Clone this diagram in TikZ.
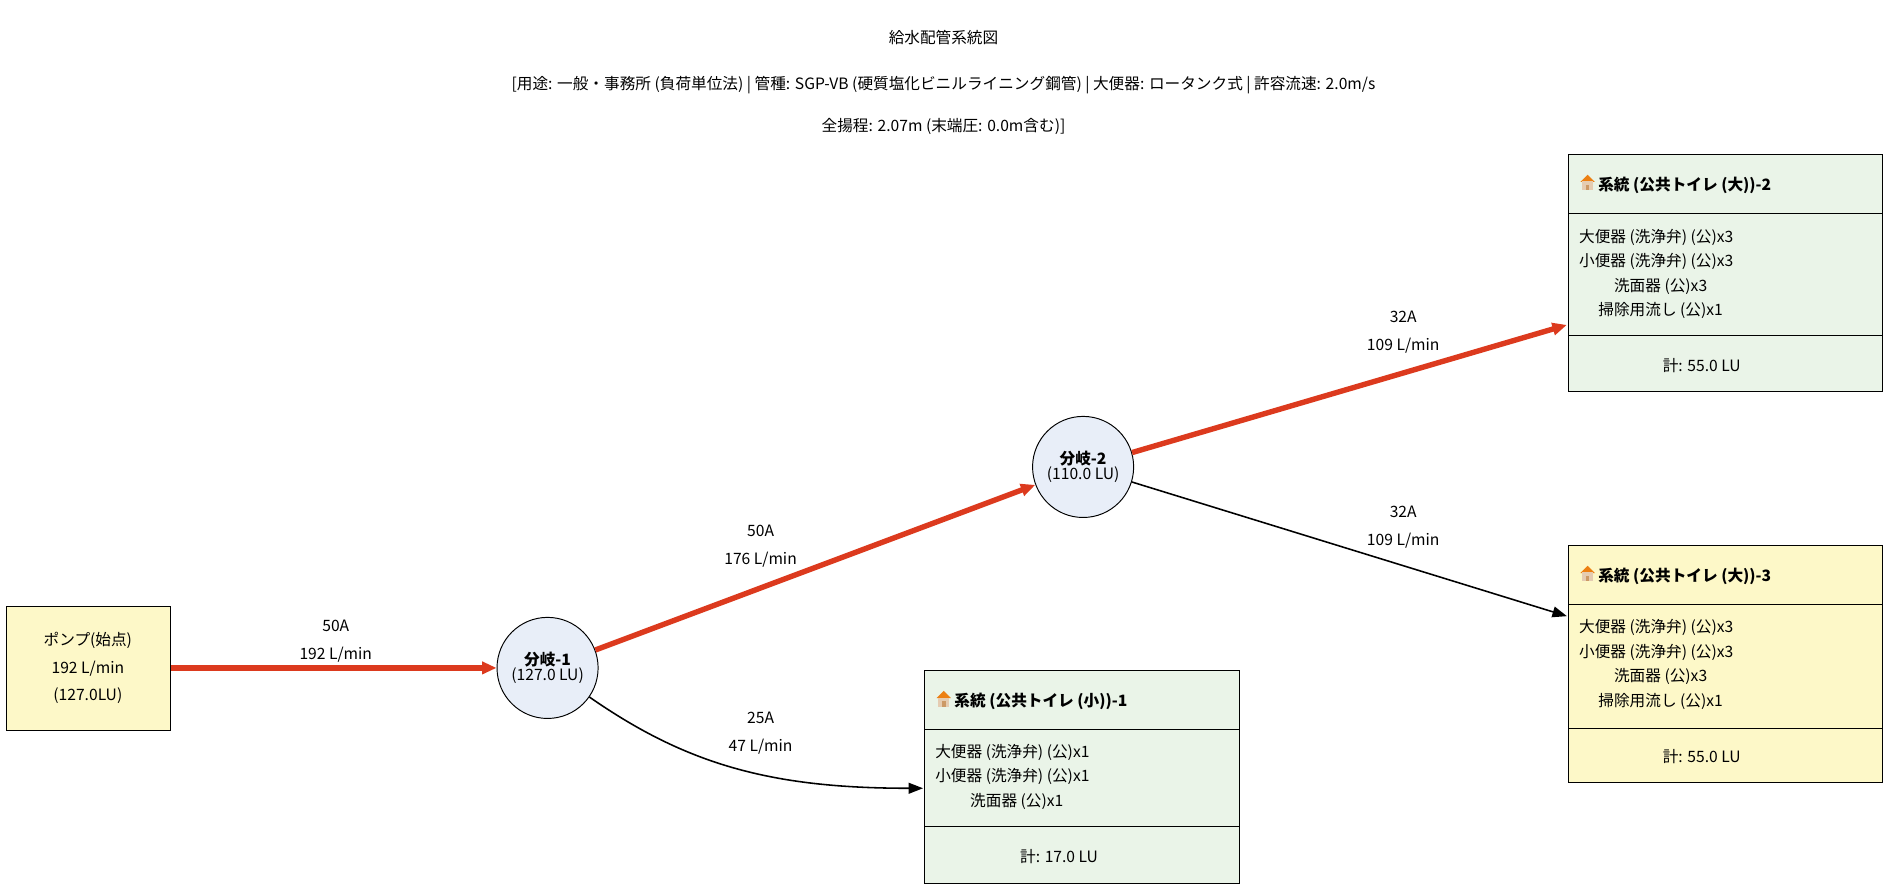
\documentclass[tikz,border=0pt]{standalone}
\usepackage{fontspec}
\setmainfont{Noto Sans CJK JP}
\usetikzlibrary{arrows.meta}
\definecolor{pipered}{HTML}{DC3A1E}
\definecolor{boxgreen}{HTML}{EAF4E8}
\definecolor{boxyellow}{HTML}{FDF8C8}
\definecolor{nodeblue}{HTML}{E8EEF8}
\newcommand{\houseicon}{\tikz[baseline=0pt,x=1pt,y=1pt]{%
  \fill[orange!70!brown] (0,7) -- (6,13) -- (12,7) -- cycle;
  \fill[brown!40] (1.5,0) rectangle (10.5,7.5);
  \fill[brown!80] (4.5,0) rectangle (7.5,4.5);}}
\begin{document}
\begin{tikzpicture}[
  x = 1pt, y = -1pt,
  every node/.style = { font = \fontsize{13}{15}\selectfont },
  branch/.style = {
    shape = circle, draw = black, thick, fill = nodeblue,
    minimum size = 84pt, inner sep = 0pt, align = center,
  },
  sysbox/.style = { draw = black, thick },
  item/.style = { anchor = west, inner sep = 0pt },
  pipe/.style = { -{Triangle[length=12pt, width=10pt]}, line width = 4.5pt, draw = pipered, color = pipered },
  thinpipe/.style = { -{Triangle[length=12pt, width=9pt]}, line width = 1.3pt },
  lbl/.style = { align = center, font = \fontsize{13}{23}\selectfont }
]
  \useasboundingbox (0,0) rectangle (1568,736);

  % title
  \node (title) at (784,31) {給水配管系統図};
  \node (sub1) at (784,71) {[用途: 一般・事務所 (負荷単位法) | 管種: SGP-VB (硬質塩化ビニルライニング鋼管) | 大便器: ロータンク式 | 許容流速: 2.0m/s};
  \node (sub2) at (784,105) {全揚程: 2.07m (末端圧: 0.0m含む)]};

  % pump
  \draw[sysbox, fill = boxyellow] (5,504) rectangle (142,607);
  \node[lbl] (pump) at (73,555) {ポンプ(始点)\\192 L/min\\(127.0LU)};

  % branches
  \node[branch] (b1) at (455,555) {\textbf{分岐-1}\\[-2pt](127.0 LU)};
  \node[branch] (b2) at (900,388) {\textbf{分岐-2}\\[-2pt](110.0 LU)};

  % system 2
  \draw[sysbox, fill = boxgreen] (1303,128) rectangle (1564,325);
  \draw[sysbox] (1303,177) -- (1564,177);
  \draw[sysbox] (1303,279) -- (1564,279);
  \node[item] (s2h) at (1313,153) {\houseicon\ \textbf{系統 (公共トイレ (大))-2}};
  \node[item] (s2a) at (1312,197) {大便器 (洗浄弁) (公)x3};
  \node[item] (s2b) at (1312,217) {小便器 (洗浄弁) (公)x3};
  \node[item] (s2c) at (1341,238) {洗面器 (公)x3};
  \node[item] (s2d) at (1328,258) {掃除用流し (公)x1};
  \node (s2t) at (1414,304) {計: 55.0 LU};
  \coordinate (s2in) at (1302,270);

  % system 3
  \draw[sysbox, fill = boxyellow] (1303,453) rectangle (1564,650);
  \draw[sysbox] (1303,502) -- (1564,502);
  \draw[sysbox] (1303,605) -- (1564,605);
  \node[item] (s3h) at (1313,478) {\houseicon\ \textbf{系統 (公共トイレ (大))-3}};
  \node[item] (s3a) at (1312,521) {大便器 (洗浄弁) (公)x3};
  \node[item] (s3b) at (1312,542) {小便器 (洗浄弁) (公)x3};
  \node[item] (s3c) at (1341,562) {洗面器 (公)x3};
  \node[item] (s3d) at (1328,583) {掃除用流し (公)x1};
  \node (s3t) at (1414,629) {計: 55.0 LU};
  \coordinate (s3in) at (1302,512);

  % system 1
  \draw[sysbox, fill = boxgreen] (768,557) rectangle (1030,734);
  \draw[sysbox] (768,606) -- (1030,606);
  \draw[sysbox] (768,687) -- (1030,687);
  \node[item] (s1h) at (778,582) {\houseicon\ \textbf{系統 (公共トイレ (小))-1}};
  \node[item] (s1a) at (777,625) {大便器 (洗浄弁) (公)x1};
  \node[item] (s1b) at (777,645) {小便器 (洗浄弁) (公)x1};
  \node[item] (s1c) at (806,666) {洗面器 (公)x1};
  \node (s1t) at (880,712) {計: 17.0 LU};
  \coordinate (s1in) at (767,655);

  % pipes
  \draw[pipe] (142,555) -- (b1);
  \draw[pipe] (b1) -- (b2);
  \draw[pipe] (b2) -- (s2in);
  \draw[thinpipe] (b2) -- (s3in);
  \draw[thinpipe] (b1) .. controls (570,635) and (640,655) .. (s1in);

  % pipe labels
  \node[lbl] at (279,533) {50A\\192 L/min};
  \node[lbl] at (632,454) {50A\\176 L/min};
  \node[lbl] at (1166,276) {32A\\109 L/min};
  \node[lbl] at (1166,438) {32A\\109 L/min};
  \node[lbl] at (632,609) {25A\\47 L/min};
\end{tikzpicture}
\end{document}
